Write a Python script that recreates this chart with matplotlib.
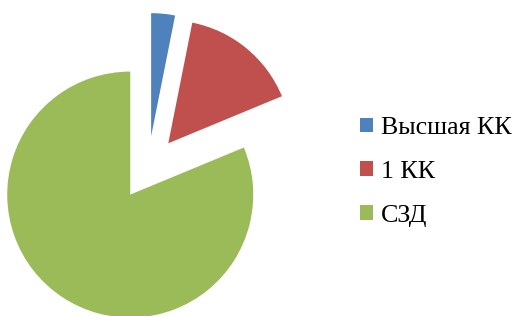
import matplotlib
matplotlib.use("Agg")
import matplotlib.pyplot as plt

labels = ["Высшая КК", "1 КК", "СЗД"]
values = [1, 5, 26]
colors = ["#4F81BD", "#C0504D", "#9BBB59"]

plt.rcParams['font.family'] = ['Liberation Serif', 'DejaVu Serif']

fig = plt.figure(figsize=(5.18, 3.16), dpi=100)
# pie area: square box, pie radius = 123 px
ax = fig.add_axes([0, 0, 296/518, 296/316])
wedges, _ = ax.pie(values, colors=colors, startangle=90, counterclock=False,
                   explode=[0.26]*3, radius=1.0)
lim = 148/123
ax.set_xlim(-lim, lim)
ax.set_ylim(-lim, lim)
ax.axis('off')

fig.legend(wedges, labels, loc='center left', bbox_to_anchor=(360/518, 1 - 172/316),
           frameon=False, fontsize=18.7, handlelength=0.5, handleheight=0.5,
           handletextpad=0.3, labelspacing=0.84, borderpad=0, borderaxespad=0)

fig.savefig("out.png", dpi=100)
